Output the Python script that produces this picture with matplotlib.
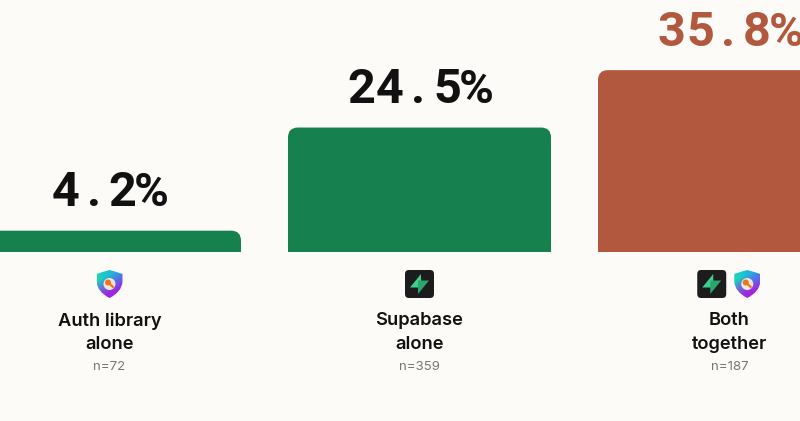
import numpy as np
import matplotlib
matplotlib.use('Agg')
import matplotlib.pyplot as plt
from matplotlib.path import Path
from matplotlib.patches import PathPatch, FancyBboxPatch, Polygon

categories = ['Auth library\nalone', 'Supabase\nalone', 'Both\ntogether']
values = [4.2, 24.5, 35.8]
value_labels = ['4.2%', '24.5%', '35.8%']
sample_sizes = ['n=72', 'n=359', 'n=187']
bar_colors = ['#16804F', '#16804F', '#B2583E']
label_colors = ['#111111', '#111111', '#B2583E']
icons = [['shield'], ['bolt'], ['bolt', 'shield']]

BG = '#FCFBF7'
PX_X = 310.0  # pixels between bar centres
PX_Y = 5.08   # pixels per percentage point
BAR_W = 263 / PX_X
BASE_PX = 252
W, H = 800, 421


def rounded_bar(ax, x, h, color, r_px=10):
    rx = r_px / PX_X
    ry = r_px / PX_Y
    l, r = x - BAR_W / 2, x + BAR_W / 2
    verts = [(l, 0), (l, h - ry), (l, h), (l + rx, h), (r - rx, h), (r, h), (r, h - ry), (r, 0), (l, 0)]
    codes = [Path.MOVETO, Path.LINETO, Path.CURVE3, Path.CURVE3, Path.LINETO,
             Path.CURVE3, Path.CURVE3, Path.LINETO, Path.CLOSEPOLY]
    ax.add_patch(PathPatch(Path(verts, codes), fc=color, ec='none'))


def spaced_label(ax, x, y, s, color, adv=28.6):
    # the number font is monospaced, so place each glyph in its own cell
    n = len(s)
    for i, ch in enumerate(s):
        off = (i - (n - 1) / 2) * adv
        ax.annotate(ch, (x, y), xytext=((off - 1) * 0.72, 24.5 * 0.72), textcoords='offset points',
                    ha='center', va='baseline', fontsize=35 if ch != '%' else 34, fontweight='bold',
                    family='Roboto', color=color, annotation_clip=False)


def draw_bolt(ov, cx, cy):
    ov.add_patch(FancyBboxPatch((cx - 11.5, cy - 11), 23, 22, boxstyle='round,pad=3,rounding_size=4',
                                fc='#1C1C1C', ec='none'))
    ov.add_patch(Polygon([(cx + 1.5, cy - 10), (cx - 9.5, cy + 3.5), (cx + 1.5, cy + 3.5)], fc='#3ECF8E', ec='none'))
    ov.add_patch(Polygon([(cx - 1.5, cy + 10), (cx + 9.5, cy - 3.5), (cx - 1.5, cy - 3.5)], fc='#2AA56D', ec='none'))


def draw_shield(ov, cx, cy):
    verts = [(cx, cy - 14), (cx + 7, cy - 12), (cx + 13, cy - 10), (cx + 13, cy - 2), (cx + 12, cy + 8),
             (cx, cy + 14), (cx - 12, cy + 8), (cx - 13, cy - 2), (cx - 13, cy - 10), (cx - 7, cy - 12), (cx, cy - 14)]
    codes = [Path.MOVETO, Path.LINETO, Path.LINETO, Path.LINETO, Path.CURVE3,
             Path.CURVE3, Path.CURVE3, Path.CURVE3, Path.LINETO, Path.LINETO, Path.CLOSEPOLY]
    clip = PathPatch(Path(verts, codes), fc='none', ec='none')
    ov.add_patch(clip)
    # teal top left, blue top right, purple bottom
    yy, xx = np.mgrid[0:1:40j, 0:1:40j]
    t = np.clip(yy * 1.5 + 0.6 * xx - 0.55, 0, 1)[..., None]
    top = np.array([0.10, 0.85, 0.72]) * (1 - xx[..., None]) + np.array([0.15, 0.60, 0.95]) * xx[..., None]
    low = np.array([0.62, 0.15, 0.88])
    img = top * (1 - t) + low * t
    im = ov.imshow(img, extent=(cx - 13, cx + 13, cy + 14, cy - 14), aspect='auto', zorder=2)
    im.set_clip_path(clip)
    ov.add_patch(plt.Circle((cx, cy), 6, fc='#EFE6DC', ec='none', zorder=3))
    ov.add_patch(plt.Circle((cx - 1.5, cy - 1.5), 3, fc='#F0711E', ec='none', zorder=4))
    ov.plot([cx - 1, cx + 3.5], [cy - 1, cy + 3], color='#F0711E', lw=1.5, zorder=4)


fig = plt.figure(figsize=(W / 100, H / 100), dpi=100, facecolor=BG)
ax = fig.add_axes([0, 0, 1, 1])
ax.set_xlim(-109.5 / PX_X, (W - 109.5) / PX_X)
ax.set_ylim(-(H - BASE_PX) / PX_Y, BASE_PX / PX_Y)
ax.axis('off')

x_pos = np.arange(len(values))
for i, v in enumerate(values):
    rounded_bar(ax, x_pos[i], v, bar_colors[i])
    spaced_label(ax, x_pos[i], v, value_labels[i], label_colors[i])
    ax.annotate(categories[i], (x_pos[i], 0), xytext=(0, -60 * 0.72), textcoords='offset points',
                ha='center', va='top', fontsize=13.2, fontweight='semibold', family='Inter',
                color='#111111', linespacing=1.52)
    ax.annotate(sample_sizes[i], (x_pos[i], 0), xytext=(0, -109.5 * 0.72), textcoords='offset points',
                ha='center', va='top', fontsize=9.5, family='Inter', color='#777777')

# overlay in pixel coordinates for the logos
ov = fig.add_axes([0, 0, 1, 1])
ov.set_xlim(0, W)
ov.set_ylim(H, 0)
ov.axis('off')
ov.patch.set_alpha(0)
for i, names in enumerate(icons):
    centre = 109.5 + x_pos[i] * PX_X
    gap = 35.5
    for j, name in enumerate(names):
        cx = centre + (j - (len(names) - 1) / 2) * gap
        if name == 'bolt':
            draw_bolt(ov, cx, 284)
        else:
            draw_shield(ov, cx, 284)
ov.set_xlim(0, W)
ov.set_ylim(H, 0)

fig.savefig('out.png', dpi=100, facecolor=BG)
